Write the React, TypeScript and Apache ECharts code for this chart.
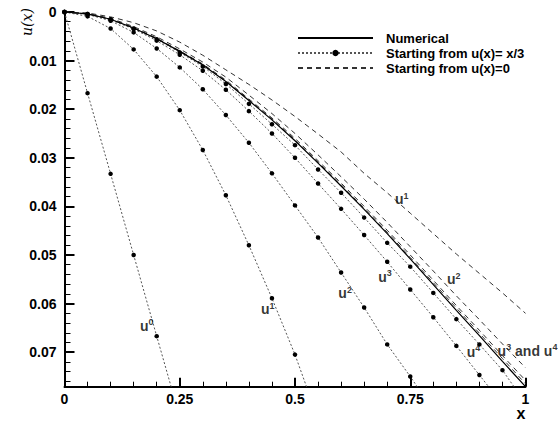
import React, { useEffect, useRef } from "react";
import * as echarts from "echarts";

// x positions of the computed nodes
const xGrid = [0, 0.05, 0.1, 0.15, 0.2, 0.25, 0.3, 0.35, 0.4, 0.45, 0.5, 0.55, 0.6, 0.65, 0.7, 0.75, 0.8, 0.85, 0.9, 0.95, 1];

// Numerical solution
const numerical = [0, 0.0004, 0.0015, 0.0033, 0.0055, 0.0081, 0.0109, 0.0143, 0.0182, 0.0222, 0.0265, 0.0311, 0.0358, 0.0406, 0.0456, 0.0508, 0.0561, 0.0614, 0.0666, 0.0719, 0.0771];

// Iterates starting from u(x) = x/3 (values until they leave the plotted range)
const x3U0 = [0, 0.0167, 0.0333, 0.05, 0.0667];
const x3U0End = [0.2313, 0.0771];
const x3U1 = [0, 0.0009, 0.0034, 0.0077, 0.0133, 0.0202, 0.0284, 0.0377, 0.048, 0.0589, 0.0705];
const x3U1End = [0.525, 0.0771];
const x3U2 = [0, 0.0005, 0.0018, 0.0042, 0.0075, 0.0114, 0.0159, 0.0212, 0.0269, 0.0332, 0.0398, 0.0464, 0.0536, 0.0608, 0.0684, 0.075];
const x3U2End = [0.765, 0.0771];
const x3U3 = [0, 0.0004, 0.0016, 0.0035, 0.0059, 0.0088, 0.0121, 0.016, 0.0204, 0.025, 0.03, 0.0353, 0.0405, 0.0459, 0.0514, 0.0571, 0.0628, 0.0687, 0.0747];
const x3U3End = [0.92, 0.0771];
const x3U4 = [0, 0.0004, 0.0015, 0.0034, 0.0056, 0.0083, 0.0112, 0.0148, 0.0189, 0.0231, 0.0274, 0.0324, 0.0372, 0.0423, 0.0475, 0.0524, 0.0578, 0.0632, 0.0684, 0.0737];
const x3U4End = [0.975, 0.0771];

// Iterates starting from u(x) = 0
const zeroU1 = [0, 0.0002, 0.001, 0.0022, 0.0039, 0.0062, 0.0089, 0.0119, 0.0149, 0.0181, 0.0215, 0.0251, 0.0288, 0.0332, 0.0372, 0.0414, 0.0456, 0.0498, 0.0538, 0.0578, 0.062];
const zeroU2 = [0, 0.0003, 0.0013, 0.003, 0.0051, 0.0076, 0.0103, 0.0134, 0.0171, 0.0209, 0.025, 0.0294, 0.0339, 0.0385, 0.0433, 0.0483, 0.0533, 0.0584, 0.0633, 0.0683, 0.0732];
const zeroU3 = [0, 0.0004, 0.0015, 0.0032, 0.0054, 0.008, 0.0107, 0.014, 0.0179, 0.0218, 0.026, 0.0306, 0.0352, 0.04, 0.0449, 0.05, 0.0552, 0.0604, 0.0655, 0.0707, 0.0758];
const zeroU4 = [0, 0.0004, 0.0015, 0.0033, 0.0055, 0.0081, 0.0108, 0.0142, 0.0181, 0.022, 0.0263, 0.0309, 0.0355, 0.0404, 0.0453, 0.0505, 0.0557, 0.0609, 0.0661, 0.0713, 0.0765];

// Curve annotations: [x, y, rich text]
const annotations: [number, number, string][] = [
  [0.1638, 0.0646, "{u|u}{s|0}"],
  [0.4262, 0.0612, "{u|u}{s|1}"],
  [0.594, 0.0579, "{u|u}{s|2}"],
  [0.6807, 0.0545, "{u|u}{s|3}"],
  [0.8725, 0.0699, "{u|u}{s|4}"],
  [0.717, 0.0385, "{u|u}{s|1}"],
  [0.8297, 0.055, "{u|u}{s|2}"],
  [0.9395, 0.0697, "{u|u}{s|3}{u| and u}{s|4}"],
];

const legendNames = ["Numerical", "Starting from u(x)= x/3", "Starting from u(x)=0"];
const xMin = 0, xMax = 1, xInterval = 0.25;
const yMin = 0, yMax = 0.0771, yInterval = 0.01;

const FONT = '"Liberation Sans", Arial, Helvetica, sans-serif';

function pairs(ys: number[], end?: number[]) {
  const out: any[] = ys.map((y, i) => [xGrid[i], y]);
  if (end) out.push({ value: end, symbol: "none" });
  return out;
}

function dotted(ys: number[], end: number[]) {
  return {
    type: "line",
    name: legendNames[1],
    data: pairs(ys, end),
    symbol: "circle",
    symbolSize: 4.5,
    showSymbol: true,
    itemStyle: { color: "#000" },
    lineStyle: { color: "#555", width: 1, type: [2, 2] },
    silent: true,
    z: 3,
  };
}

function dashed(ys: number[]) {
  return {
    type: "line",
    name: legendNames[2],
    data: pairs(ys),
    symbol: "none",
    showSymbol: false,
    itemStyle: { color: "#333" },
    lineStyle: { color: "#333", width: 1, type: [5, 4] },
    silent: true,
    z: 2,
  };
}

export default function App() {
  const ref = useRef<HTMLDivElement>(null);
  useEffect(() => {
    if (!ref.current) return;
    const chart = echarts.init(ref.current, undefined, { renderer: "svg" });
    chart.setOption({
      animation: false,
      backgroundColor: "#fff",
      grid: { left: 64.5, top: 12, right: 32.5, bottom: 36.3, containLabel: false },
      legend: {
        data: [
          { name: legendNames[0], itemStyle: { opacity: 0 } },
          { name: legendNames[1] },
          { name: legendNames[2], itemStyle: { opacity: 0 } },
        ],
        orient: "vertical",
        left: 292,
        top: 26.5,
        itemWidth: 75,
        itemHeight: 8,
        itemGap: 2,
        selectedMode: false,
        textStyle: { fontFamily: FONT, fontWeight: "bold", fontSize: 13, color: "#000", padding: [0, 0, 0, 8] },
      },
      xAxis: {
        type: "value",
        min: xMin,
        max: xMax,
        interval: xInterval,
        axisLine: { show: true, onZero: false, lineStyle: { color: "#000", width: 2 } },
        axisTick: { show: true, inside: true, length: 9, lineStyle: { color: "#000", width: 2 } },
        minorTick: { show: true, splitNumber: 5, length: 5, lineStyle: { color: "#000", width: 1 } },
        splitLine: { show: false },
        minorSplitLine: { show: false },
        axisLabel: { color: "#000", fontFamily: FONT, fontWeight: "bold", fontSize: 14, margin: 5 },
      },
      yAxis: {
        type: "value",
        inverse: true,
        min: yMin,
        max: yMax,
        interval: yInterval,
        axisLine: { show: true, onZero: false, lineStyle: { color: "#000", width: 2 } },
        axisTick: { show: true, inside: true, length: 10, lineStyle: { color: "#000", width: 2 } },
        minorTick: { show: true, splitNumber: 5, length: 6, lineStyle: { color: "#000", width: 1 } },
        splitLine: { show: false },
        minorSplitLine: { show: false },
        axisLabel: {
          color: "#000",
          fontFamily: FONT,
          fontWeight: "bold",
          fontSize: 14,
          margin: 8,
          showMaxLabel: false,
          formatter: (v: number) => String(Number(v.toFixed(4))),
        },
      },
      graphic: [
        {
          type: "text",
          x: 27,
          y: 22,
          rotation: Math.PI / 2,
          style: { text: "u(x)", font: 'italic 14px "DejaVu Serif", "Liberation Serif", serif', fill: "#000", align: "center", verticalAlign: "middle" },
        },
        {
          type: "text",
          x: 521,
          y: 413,
          style: { text: "x", font: 'bold 16px "Liberation Sans", Arial, sans-serif', fill: "#000", align: "center", verticalAlign: "middle" },
        },
      ],
      series: [
        dashed(zeroU1),
        dashed(zeroU2),
        dashed(zeroU3),
        dashed(zeroU4),
        dotted(x3U0, x3U0End),
        dotted(x3U1, x3U1End),
        dotted(x3U2, x3U2End),
        dotted(x3U3, x3U3End),
        dotted(x3U4, x3U4End),
        {
          type: "line",
          name: legendNames[0],
          data: pairs(numerical),
          symbol: "none",
          showSymbol: false,
          itemStyle: { color: "#000" },
          lineStyle: { color: "#000", width: 1.2 },
          silent: true,
          z: 4,
        },
        {
          type: "scatter",
          name: "labels",
          data: annotations.map((a) => ({ value: [a[0], a[1]], label: { formatter: a[2] } })),
          symbolSize: 0,
          itemStyle: { color: "rgba(0,0,0,0)" },
          silent: true,
          z: 6,
          label: {
            show: true,
            position: [0, 0],
            align: "left",
            verticalAlign: "middle",
            rich: {
              u: { fontFamily: FONT, fontWeight: "bold", fontSize: 14, color: "#000", lineHeight: 16 },
              s: { fontFamily: FONT, fontWeight: "bold", fontSize: 9, color: "#000", lineHeight: 6, verticalAlign: "top" },
            },
          },
        },
      ],
    });
    return () => chart.dispose();
  }, []);
  return <div ref={ref} style={{ position: "fixed", left: 0, top: 0, width: 558, height: 423, background: "#fff" }} />;
}
